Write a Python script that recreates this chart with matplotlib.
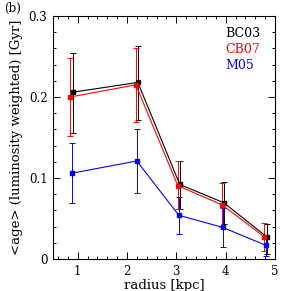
import matplotlib
matplotlib.use('Agg')
import matplotlib.pyplot as plt
from matplotlib.ticker import MultipleLocator, FuncFormatter

plt.rcParams['font.family'] = ['DejaVu Serif']

# BC03
bc_x = [0.91, 2.22, 3.07, 3.96, 4.83]
bc_y = [0.206, 0.218, 0.092, 0.0695, 0.0275]
bc_lo = [0.156, 0.171, 0.062, 0.043, 0.006]
bc_hi = [0.254, 0.263, 0.121, 0.095, 0.043]

# CB07
cb_x = [0.85, 2.18, 3.03, 3.93, 4.78]
cb_y = [0.200, 0.215, 0.0905, 0.0667, 0.0275]
cb_lo = [0.152, 0.1695, 0.062, 0.040, 0.010]
cb_hi = [0.248, 0.260, 0.121, 0.094, 0.044]

# M05
m_x = [0.89, 2.20, 3.05, 3.94, 4.81]
m_y = [0.106, 0.121, 0.054, 0.039, 0.017]
m_lo = [0.069, 0.082, 0.0305, 0.015, 0.004]
m_hi = [0.143, 0.160, 0.077, 0.063, 0.027]

series = [
    ('BC03', 'black', bc_x, bc_y, bc_lo, bc_hi),
    ('CB07', 'red', cb_x, cb_y, cb_lo, cb_hi),
    ('M05', 'blue', m_x, m_y, m_lo, m_hi),
]

fig = plt.figure(figsize=(2.91, 2.91), dpi=100)
ax = fig.add_axes([0.182, 0.110, 0.763, 0.835])

for name, col, x, y, lo, hi in series:
    err = [[v - l for v, l in zip(y, lo)], [h - v for v, h in zip(y, hi)]]
    ax.errorbar(x, y, yerr=err, color=col, lw=0.8, elinewidth=0.7,
                capsize=2, capthick=0.7, marker='s', ms=2.5)

ax.set_xlim(0.5, 5)
ax.set_ylim(0, 0.3)
ax.xaxis.set_major_locator(MultipleLocator(1))
ax.xaxis.set_minor_locator(MultipleLocator(0.2))
ax.yaxis.set_major_locator(MultipleLocator(0.1))
ax.yaxis.set_minor_locator(MultipleLocator(0.02))
ax.yaxis.set_major_formatter(FuncFormatter(lambda v, p: '0' if abs(v) < 1e-9 else '%.1f' % v))
ax.tick_params(which='both', direction='in', top=True, right=True,
               labelsize=8.5, width=0.7)
ax.tick_params(which='major', length=5, pad=4)
ax.tick_params(which='minor', length=2.5)
for s in ax.spines.values():
    s.set_linewidth(0.8)

ax.set_xlabel('radius [kpc]', fontsize=9.5, labelpad=1)
ax.set_ylabel('<age> (luminosity weighted) [Gyr]', fontsize=9.5, labelpad=4)

for i, (name, col, *_rest) in enumerate(series):
    ax.text(0.775, 0.93 - i * 0.066, name, color=col, fontsize=9,
            transform=ax.transAxes, va='center', ha='left')

fig.text(0.015, 0.97, '(b)', fontsize=8.5, va='center', ha='left')

fig.savefig('out.png', dpi=100)
